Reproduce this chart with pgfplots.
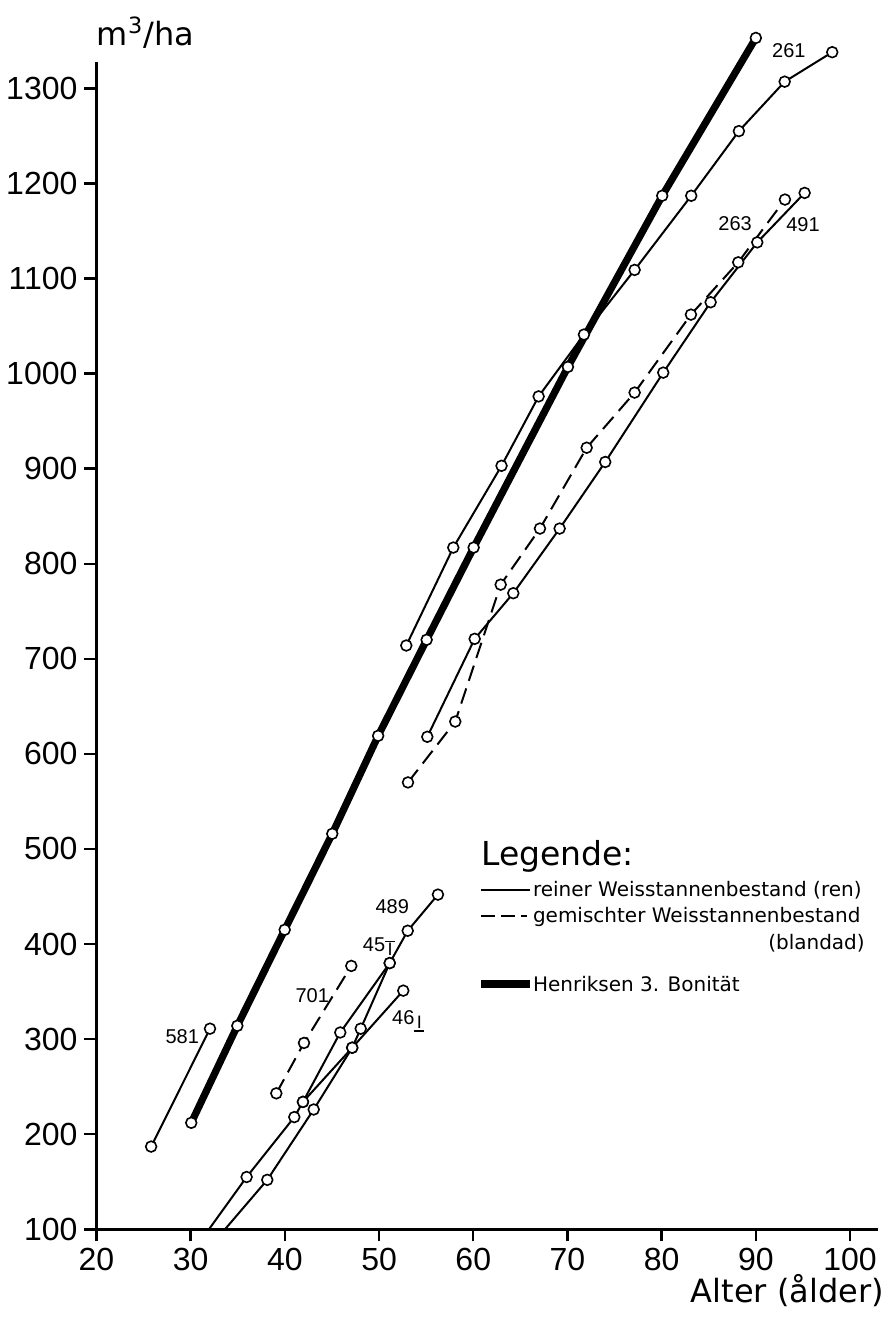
\documentclass[border=0pt]{standalone}
\usepackage{fontspec}
\setmainfont{DejaVu Sans}
\newfontfamily\numfont{Liberation Sans}
\usepackage{pgfplots}
\usepackage{pgfplotstable}
\pgfplotsset{compat=1.18}

% Henriksen 3. Bonitaet
\pgfplotstableread{
x y
30.06 212
34.95 314
39.98 415
45.03 516
49.90 619
55.05 720
60.04 817
70.05 1007
80.06 1187
90.00 1353
}\henriksen
% 261 (rein)
\pgfplotstableread{
x y
52.89 714
57.88 817
63.00 903
66.94 976
71.75 1041
77.13 1109
83.14 1187
88.20 1255
93.06 1307
98.11 1338
}\sA
% 491 (rein)
\pgfplotstableread{
x y
55.12 618
60.15 721
64.25 769
69.17 837
74.01 907
80.17 1001
85.20 1075
90.15 1138
95.18 1190
}\sB
% 263 (gemischt)
\pgfplotstableread{
x y
53.07 570
58.09 634
62.91 778
67.08 837
72.04 922
77.13 980
83.11 1062
88.13 1117
93.09 1183
}\sC
% 581 (rein)
\pgfplotstableread{
x y
25.80 187
32.05 311
}\sD
% 701 (gemischt)
\pgfplotstableread{
x y
39.09 243
42.03 296
47.05 377
}\sE
% 489 (rein) - first row is where the line leaves the x axis
\pgfplotstableread{
x y
31.94 100
35.94 155
41.00 218
41.92 234
45.88 307
51.13 380
53.04 414
56.25 452
}\sF
% 45 I (rein) - first row is where the line leaves the x axis
\pgfplotstableread{
x y
33.64 100
38.13 152
43.06 226
47.15 291
48.05 311
51.13 380
}\sG
% 46 I (rein)
\pgfplotstableread{
x y
41.92 234
47.15 291
52.57 351
}\sH

\begin{document}
\begin{tikzpicture}[x=1pt,y=1pt]
\path[use as bounding box] (-48.25,-44.85) rectangle (396.75,614.65);
\begin{axis}[
  at={(0,0)}, anchor=south west,
  scale only axis, width=390.9pt, height=583.8pt,
  xmin=20, xmax=103, ymin=100, ymax=1328,
  axis x line*=bottom, axis y line*=left,
  axis line style={line width=1.4pt, -},
  xtick={20,30,...,100}, ytick={100,200,...,1300},
  tick align=outside, major tick length=6pt,
  tick style={line width=1.2pt, black},
  /pgf/number format/assume math mode=true,
  /pgf/number format/1000 sep={},
  ticklabel style={font=\numfont\fontsize{16}{16}\selectfont},
  clip=false,
  thinl/.style={black, line width=1pt},
  dashl/.style={black, line width=1pt, dash pattern=on 8pt off 4pt},
  circ/.style={only marks, mark=*, mark size=2.7pt,
     mark options={solid, fill=white, draw=black, line width=0.8pt}},
]
% lines
\addplot[black, line width=3.6pt] table {\henriksen};
\addplot[thinl] table {\sA};
\addplot[thinl] table {\sB};
\addplot[dashl] table {\sC};
\addplot[thinl] table {\sD};
\addplot[dashl] table {\sE};
\addplot[thinl] table {\sF};
\addplot[thinl] table {\sG};
\addplot[thinl] table {\sH};
% circles
\addplot[circ] table {\henriksen};
\addplot[circ] table {\sA};
\addplot[circ] table {\sB};
\addplot[circ] table {\sC};
\addplot[circ] table {\sD};
\addplot[circ] table {\sE};
\addplot[circ, mark repeat=1, mark phase=2] table {\sF};
\addplot[circ, mark repeat=1, mark phase=2] table {\sG};
\addplot[circ] table {\sH};

% series labels
\begin{scope}[every node/.style={font=\numfont\fontsize{10}{10}\selectfont, inner sep=0pt}]
\node at (axis cs:93.5,1340) {261};
\node at (axis cs:87.8,1158) {263};
\node at (axis cs:95.0,1157) {491};
\node at (axis cs:29.1,303) {581};
\node at (axis cs:42.9,346) {701};
\node at (axis cs:51.4,439) {489};
\node at (axis cs:50.0,397) {45\raisebox{-2pt}{\numfont\fontsize{9}{9}\selectfont\rlap{\rule[7pt]{5pt}{0.6pt}}\hbox to 5pt{\hss I\hss}}};
\node at (axis cs:53.1,319) {46\raisebox{-2pt}{\numfont\fontsize{9}{9}\selectfont\rlap{\rule[-1.5pt]{5pt}{0.6pt}}\hbox to 5pt{\hss I\hss}}};
\end{scope}

% axis titles
\node[anchor=base west, inner sep=0pt, font=\fontsize{16}{16}\selectfont]
  at (rel axis cs:0,1) [xshift=0pt, yshift=8pt] {m\textsuperscript{3}/ha};
\node[anchor=base east, inner sep=0pt, font=\fontsize{16}{16}\selectfont]
  at (rel axis cs:1,0) [xshift=3pt, yshift=-36.5pt] {Alter (ålder)};

% legend
\node[anchor=west, inner sep=0pt, font=\fontsize{16.5}{16.5}\selectfont] at (axis cs:60.8,492) {Legende:};
\draw[black, line width=1pt] (axis cs:60.82,457) -- (axis cs:66.0,457);
\node[anchor=west, inner sep=0pt, font=\fontsize{10}{10}\selectfont] at (axis cs:66.3,457) {reiner Weisstannenbestand (ren)};
\draw[black, line width=1pt, dash pattern=on 7pt off 3pt] (axis cs:60.82,429) -- (axis cs:65.7,429);
\node[anchor=west, inner sep=0pt, font=\fontsize{10}{10}\selectfont] at (axis cs:66.3,429) {gemischter Weisstannenbestand};
\node[anchor=east, inner sep=0pt, font=\fontsize{10}{10}\selectfont] at (axis cs:101.6,401) {(blandad)};
\draw[black, line width=3.6pt] (axis cs:60.82,358) -- (axis cs:66.0,358);
\node[anchor=west, inner sep=0pt, font=\fontsize{10}{10}\selectfont] at (axis cs:66.3,358) {Henriksen 3. Bonität};
\end{axis}
\end{tikzpicture}
\end{document}
